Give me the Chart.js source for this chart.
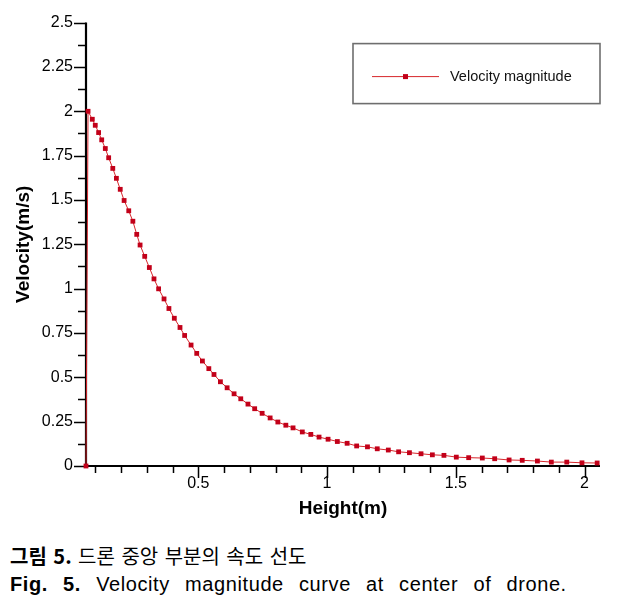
<!DOCTYPE html>
<html><head><meta charset="utf-8">
<script src="https://cdn.jsdelivr.net/npm/chart.js@4"></script>
<style>
html,body{margin:0;padding:0;background:#fff;}
#wrap{position:relative;width:620px;height:610px;overflow:hidden;}
#c{position:absolute;left:0;top:0;}
.cap{position:absolute;left:10px;font-size:20px;color:#000;white-space:nowrap;line-height:24px;}
#capKo{top:544px;font-family:"Noto Sans CJK KR","Liberation Sans",sans-serif;word-spacing:2px;}
#capEn{top:572px;font-family:"Liberation Sans",Arial,sans-serif;letter-spacing:0.6px;word-spacing:9px;}
</style></head>
<body>
<div id="wrap">
<canvas id="c" width="620" height="530"></canvas>
<div class="cap" id="capKo"><b>그림 5.</b> 드론 중앙 부분의 속도 선도</div>
<div class="cap" id="capEn"><b>Fig. 5.</b> Velocity magnitude curve at center of drone.</div>
</div>
<script>
const seriesLabel = 'Velocity magnitude';
const heights = [0.064, 0.072, 0.0885, 0.100, 0.113, 0.125, 0.139, 0.152, 0.168, 0.182,
  0.197, 0.212, 0.230, 0.246, 0.261, 0.274, 0.292, 0.310, 0.328, 0.346,
  0.367, 0.386, 0.407, 0.429, 0.447, 0.472, 0.494, 0.516, 0.541, 0.561,
  0.586, 0.612, 0.639, 0.665, 0.693, 0.719, 0.748, 0.779, 0.809, 0.840,
  0.868, 0.904, 0.937, 0.969, 1.004, 1.040, 1.078, 1.115, 1.157, 1.195,
  1.238, 1.278, 1.320, 1.365, 1.409, 1.454, 1.502, 1.550, 1.603, 1.651,
  1.707, 1.758, 1.817, 1.871, 1.931, 1.990, 2.049];
const velocity = [0, 2.0, 1.955, 1.921, 1.880, 1.839, 1.790, 1.738, 1.678, 1.622,
  1.560, 1.497, 1.439, 1.380, 1.306, 1.246, 1.182, 1.119, 1.055, 0.999,
  0.942, 0.888, 0.833, 0.781, 0.736, 0.682, 0.635, 0.592, 0.549, 0.516,
  0.475, 0.441, 0.407, 0.379, 0.349, 0.323, 0.297, 0.271, 0.248, 0.230,
  0.215, 0.192, 0.178, 0.163, 0.151, 0.138, 0.128, 0.113, 0.108, 0.097,
  0.090, 0.080, 0.075, 0.069, 0.063, 0.060, 0.050, 0.047, 0.045, 0.041,
  0.034, 0.032, 0.028, 0.022, 0.022, 0.018, 0.017];
const xMajorTicks = [0.5, 1, 1.5, 2];
const xMinorTicks = [0.1, 0.2, 0.3, 0.4, 0.6, 0.7, 0.8, 0.9, 1.1, 1.2, 1.3, 1.4, 1.6, 1.7, 1.8, 1.9];
const yMajorTicks = [0, 0.25, 0.5, 0.75, 1, 1.25, 1.5, 1.75, 2, 2.25, 2.5];
const yMinorTicks = [0.125, 0.375, 0.625, 0.875, 1.125, 1.375, 1.625, 1.875, 2.125, 2.375];
const xRange = [0.064, 2.06];
const yRange = [0, 2.5];

const points = heights.map((h, i) => ({x: h, y: velocity[i]}));

const axesPlugin = {
  id: 'axesPlugin',
  beforeDatasetsDraw(chart) {
    const {ctx, chartArea: a, scales: {x, y}} = chart;
    ctx.save();
    ctx.strokeStyle = '#000';
    ctx.lineWidth = 1.5;
    ctx.beginPath();
    yMajorTicks.forEach(v => { const p = Math.round(y.getPixelForValue(v)) + 0.5; ctx.moveTo(a.left - 12, p); ctx.lineTo(a.left, p); });
    yMinorTicks.forEach(v => { const p = Math.round(y.getPixelForValue(v)) + 0.5; ctx.moveTo(a.left - 8, p); ctx.lineTo(a.left, p); });
    xMajorTicks.forEach(v => { const p = Math.round(x.getPixelForValue(v)) + 0.5; ctx.moveTo(p, a.bottom); ctx.lineTo(p, a.bottom + 12); });
    xMinorTicks.forEach(v => { const p = Math.round(x.getPixelForValue(v)) + 0.5; ctx.moveTo(p, a.bottom); ctx.lineTo(p, a.bottom + 7); });
    ctx.stroke();
    ctx.lineWidth = 2.2;
    ctx.beginPath();
    ctx.moveTo(a.left, a.top);
    ctx.lineTo(a.left, a.bottom);
    ctx.lineTo(a.right, a.bottom);
    ctx.stroke();
    ctx.restore();
  },
  afterDraw(chart) {
    const {ctx, chartArea: a} = chart;
    const ds = chart.data.datasets[0];
    const bx = a.left + 267, by = a.top + 21, bw = a.right - bx, bh = 60;
    ctx.save();
    ctx.fillStyle = '#fff';
    ctx.fillRect(bx, by, bw, bh);
    ctx.strokeStyle = '#6e6e6e';
    ctx.lineWidth = 1.6;
    ctx.strokeRect(bx, by, bw, bh);
    const ly = by + 33;
    ctx.strokeStyle = ds.borderColor;
    ctx.lineWidth = 1;
    ctx.beginPath();
    ctx.moveTo(bx + 19, ly); ctx.lineTo(bx + 86, ly);
    ctx.stroke();
    ctx.fillStyle = ds.pointBackgroundColor;
    ctx.fillRect(bx + 50, ly - 2.5, 5, 5);
    ctx.fillStyle = '#111';
    ctx.font = '14.5px "Liberation Sans", Arial, sans-serif';
    ctx.textBaseline = 'middle';
    ctx.fillText(ds.label, bx + 97, ly);
    ctx.restore();
  }
};

const tickFont = {family: '"Liberation Sans", Arial, sans-serif', size: 16};
const titleFont = {family: '"Liberation Sans", Arial, sans-serif', size: 19, weight: 'bold'};

new Chart(document.getElementById('c'), {
  type: 'scatter',
  data: {
    datasets: [{
      label: seriesLabel,
      data: points,
      showLine: true,
      borderColor: '#d7262b',
      borderWidth: 1,
      pointStyle: 'rect',
      pointRadius: 3.4,
      pointBackgroundColor: '#c20019',
      pointBorderWidth: 0,
      clip: false
    }]
  },
  options: {
    responsive: false,
    animation: false,
    layout: {padding: {left: 0, top: 20, right: 20, bottom: 0}},
    plugins: {legend: {display: false}, tooltip: {enabled: false}},
    scales: {
      x: {
        type: 'linear', min: xRange[0], max: xRange[1],
        afterBuildTicks: s => { s.ticks = xMajorTicks.map(v => ({value: v})); },
        afterFit: s => { s.height = 64; },
        ticks: {callback: v => String(v), font: tickFont, color: '#000', padding: 8, maxRotation: 0, autoSkip: false},
        grid: {display: false, drawTicks: false},
        border: {display: false},
        title: {display: true, text: 'Height(m)', font: titleFont, color: '#000', padding: {top: 0, bottom: 10}}
      },
      y: {
        type: 'linear', min: yRange[0], max: yRange[1],
        afterBuildTicks: s => { s.ticks = yMajorTicks.map(v => ({value: v})); },
        afterFit: s => { s.width = 86; },
        ticks: {callback: v => String(v), font: tickFont, color: '#000', padding: 13, autoSkip: false},
        grid: {display: false, drawTicks: false},
        border: {display: false},
        title: {display: true, text: 'Velocity(m/s)', font: titleFont, color: '#000', padding: {top: 12, bottom: 0}}
      }
    }
  },
  plugins: [axesPlugin]
});
</script>
</body></html>
